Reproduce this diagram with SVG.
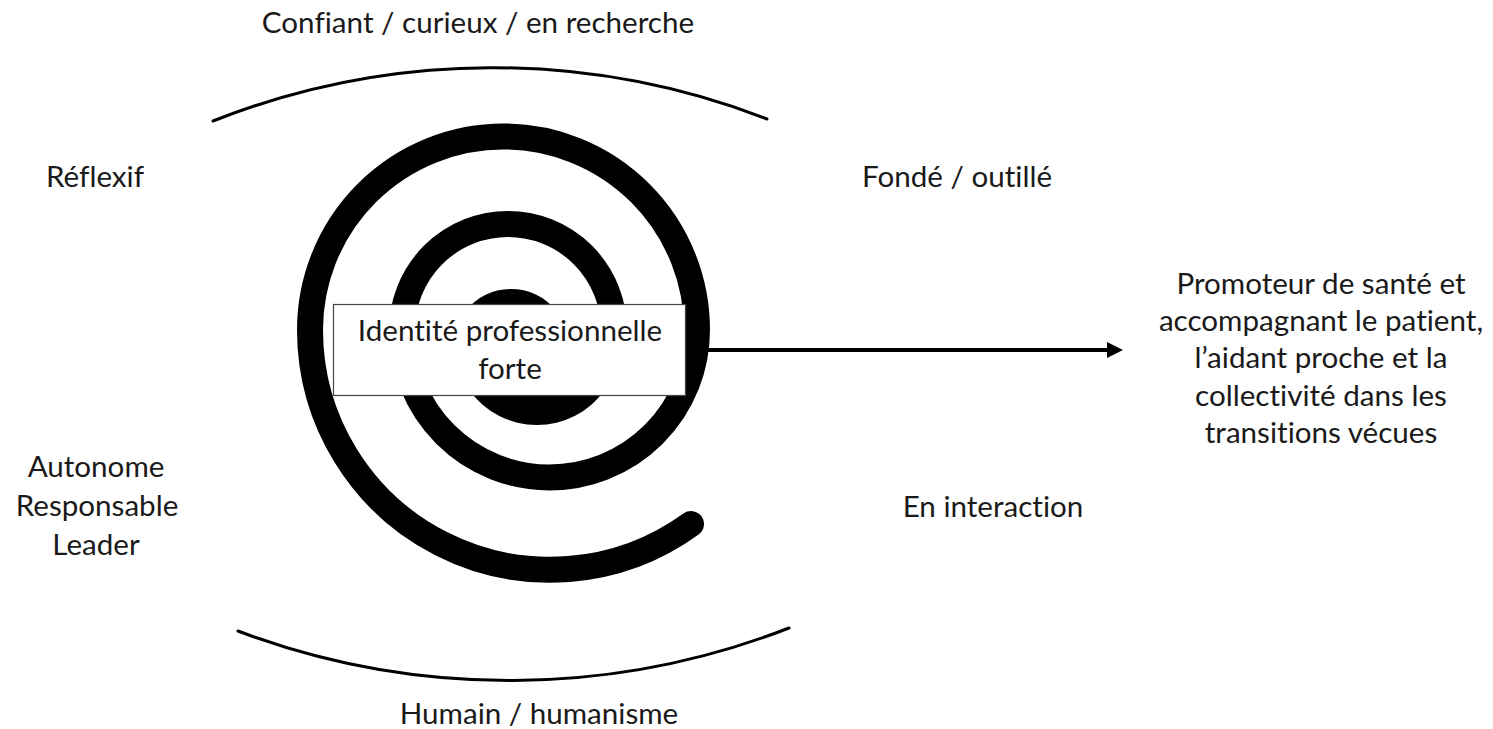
<svg xmlns="http://www.w3.org/2000/svg" width="1493" height="729" viewBox="0 0 1493 729">
<style>
text{font-family:Lato,"Open Sans","Liberation Sans",sans-serif;font-size:29.6px;fill:#1a1a1a;text-anchor:middle;font-variant-ligatures:none;font-feature-settings:"liga" 0,"dlig" 0}
.arc{fill:none;stroke:#000;stroke-width:3;stroke-linecap:round}
.spiral{fill:none;stroke:#000;stroke-width:26;stroke-linecap:round}
.box{fill:#fff;stroke:#444;stroke-width:1.2}
.conn{stroke:#000;stroke-width:4;fill:none}
</style>
<defs>
<marker id="ah" markerUnits="userSpaceOnUse" markerWidth="16" markerHeight="16" viewBox="0 0 16 16" refX="2" refY="8" orient="auto">
<path d="M0,0 L16,8 L0,16 z" fill="#000"/>
</marker>
</defs>
<rect width="1493" height="729" fill="#fff"/>
<g id="arcs">
<path class="arc" d="M213,121 A760 760 0 0 1 767,119"/>
<path class="arc" d="M238,631 A770 770 0 0 0 789,628"/>
</g>
<g id="spiral">
<path d="M466.2,310 A58.2 58.2 0 0 1 555.8,310 L604.7,390 A83 83 0 0 1 469.3,390 Z" fill="#000"/>
<path class="spiral" d="M614,330 A106 106 0 0 0 402,330 A147.5 147.5 0 0 0 697,330 A193.5 193.5 0 0 0 310,330 A240 240 0 0 0 691,524"/>
</g>
<g id="connectors">
<line class="conn" x1="700" y1="350" x2="1109" y2="350" marker-end="url(#ah)"/>
</g>
<g id="node-identite">
<rect class="box" x="333.5" y="304.5" width="352" height="91"/>
<text x="510" y="341">Identité professionnelle</text>
<text x="510" y="379">forte</text>
</g>
<g id="label-top"><text x="478" y="33">Confiant / curieux / en recherche</text></g>
<g id="label-reflexif"><text x="95" y="187">Réflexif</text></g>
<g id="label-fonde"><text x="957" y="187">Fondé / outillé</text></g>
<g id="label-autonome">
<text x="96" y="477">Autonome</text>
<text x="97" y="516">Responsable</text>
<text x="96" y="555">Leader</text>
</g>
<g id="label-interaction"><text x="993" y="517">En interaction</text></g>
<g id="label-humain"><text x="539" y="724">Humain / humanisme</text></g>
<g id="node-promoteur">
<text x="1321" y="294">Promoteur de santé et</text>
<text x="1321" y="331">accompagnant le patient,</text>
<text x="1321" y="368">l’aidant proche et la</text>
<text x="1321" y="406">collectivité dans les</text>
<text x="1321" y="443">transitions vécues</text>
</g>
</svg>
